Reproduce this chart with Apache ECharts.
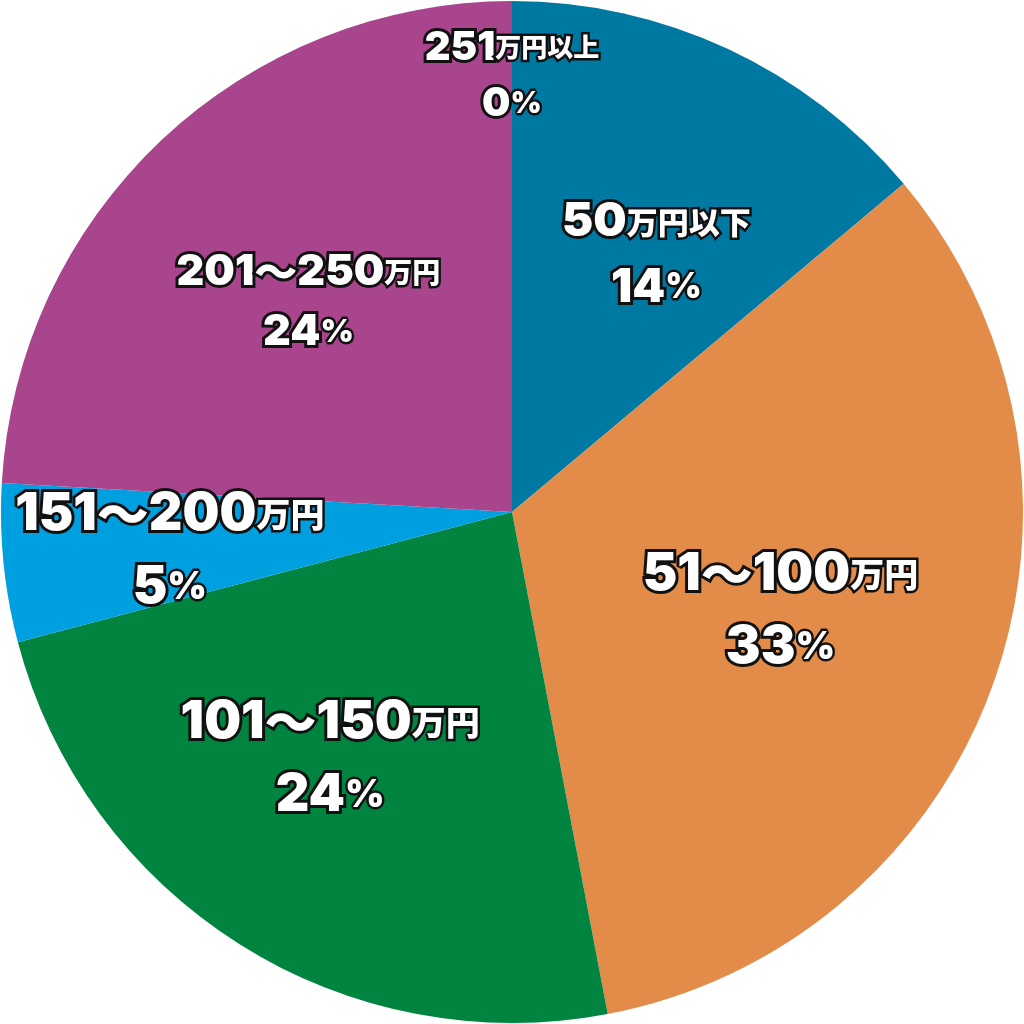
<!DOCTYPE html>
<html><head><meta charset="utf-8">
<script src="https://cdn.jsdelivr.net/npm/echarts@6/dist/echarts.min.js"></script>
<style>html,body{margin:0;padding:0;background:#fff}#c{width:1024px;height:1024px}</style>
</head><body><div id="c"></div>
<script>
// Data
const categories = ['50万円以下','51～100万円','101～150万円','151～200万円','201～250万円','251万円以上'];
const shares = [13.9, 33.1, 23.9, 5.0, 24.1, 0];
const colors = ['#0079A2','#E38B49','#00843F','#009FE0','#A8458D','#A8458D'];

// label styling per slice (layout only)
const labelSizes = [47, 52, 52, 52, 43, 40];
const labelOffsets = [[35,-23],[25,12],[-44,28],[-85,13],[-26,-22],[0,-178]];

const NUMFONT = 'Inter, "Noto Sans CJK JP", sans-serif';
const JPFONT = '"Noto Sans CJK JP", "Noto Sans", sans-serif';
function rich(sz){
  const base = {fontWeight: 900, color:'#fff',
    textBorderColor:'#111', textBorderWidth: 6,
    textShadowColor:'rgba(10,10,10,0.95)', textShadowOffsetX:4, textShadowOffsetY:4, textShadowBlur:0};
  const lh = Math.round(sz*1.4);
  return {
    n: Object.assign({}, base, {fontFamily: NUMFONT, fontSize: sz, lineHeight: lh}),
    t: Object.assign({}, base, {fontFamily: JPFONT, fontSize: sz, lineHeight: lh}),
    u: Object.assign({}, base, {fontFamily: JPFONT, fontSize: Math.round(sz*0.66), lineHeight: lh, textBorderWidth:5}),
    p: Object.assign({}, base, {fontFamily: NUMFONT, fontSize: sz, lineHeight: lh}),
    q: Object.assign({}, base, {fontFamily: NUMFONT, fontSize: Math.round(sz*0.74), lineHeight: lh, textBorderWidth:5})
  };
}

const data = categories.map((name, i) => ({
  name, value: shares[i],
  itemStyle: {color: colors[i]},
  label: {fontSize: labelSizes[i], offset: labelOffsets[i], rich: rich(labelSizes[i])}
}));

function numPart(s){
  // digits in Latin font, the wave dash in the CJK font
  return s.split('～').map(x => '{n|' + x + '}').join('{t|～}');
}

const chart = echarts.init(document.getElementById('c'), null, {renderer:'canvas'});
chart.setOption({
  animation: false,
  series: [{
    type: 'pie',
    center: [512, 512],
    radius: [0, 511],
    startAngle: 90,
    clockwise: true,
    minShowLabelAngle: 0,
    avoidLabelOverlap: false,
    itemStyle: {borderWidth: 0},
    emphasis: {disabled: true},
    labelLine: {show: false},
    label: {
      show: true,
      position: 'inside',
      formatter: function(p){
        const m = p.name.match(/^([0-9～]+)(.*)$/);
        return numPart(m[1]) + '{u|' + m[2] + '}\n{p|' + Math.round(p.percent) + '}{q|%}';
      }
    },
    data: data
  }]
});
</script>
</body></html>
